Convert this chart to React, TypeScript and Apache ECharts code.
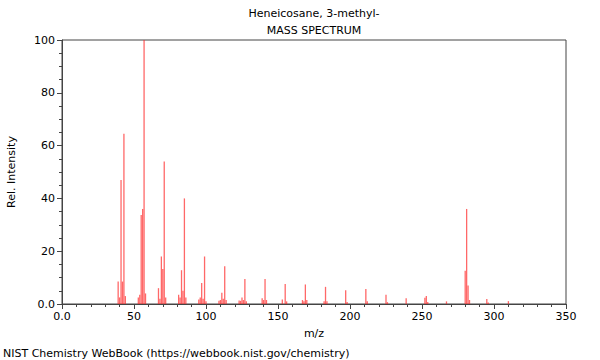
import React, { useEffect, useRef } from "react";
import * as echarts from "echarts";

const titleLines = ["Heneicosane, 3-methyl-", "MASS SPECTRUM"];
const xAxisName = "m/z";
const yAxisName = "Rel. Intensity";
const footer = "NIST Chemistry WebBook (https://webbook.nist.gov/chemistry)";

const mz = [
  39, 40, 41, 42, 43, 44, 53, 54, 55, 56, 57, 58, 67, 68, 69, 70, 71, 72,
  81, 82, 83, 84, 85, 86, 95, 96, 97, 98, 99, 100, 109, 110, 111, 112, 113, 114,
  123, 124, 125, 126, 127, 128, 139, 140, 141, 142, 153, 155, 156, 167, 168, 169,
  170, 182, 183, 184, 197, 198, 211, 212, 225, 226, 239, 252, 253, 254, 267,
  280, 281, 282, 283, 295, 296, 310,
];
const intensity = [
  8.5, 2.5, 47, 8.5, 64.5, 3, 2.5, 3.5, 33.7, 36, 100, 4, 6, 2, 18, 13.3, 54, 2.5,
  3.5, 2.5, 12.8, 5, 40, 2.5, 1.7, 2.5, 8, 2, 18, 1, 1.2, 1.5, 4.3, 2, 14.3, 1.5,
  1.3, 1.2, 2.5, 1.5, 9.5, 1, 2.2, 1.5, 9.5, 1.5, 1.7, 7.6, 1, 1.5, 1, 7.4,
  1.5, 1, 6.5, 1, 5.2, 0.8, 5.7, 1, 3.5, 0.7, 2.2, 2.4, 3, 0.8, 1,
  12.6, 36, 7, 1.5, 1.9, 0.6, 1.1,
];

const FONT = "DejaVu Sans";

export default function App() {
  const ref = useRef<HTMLDivElement>(null);
  useEffect(() => {
    if (!ref.current) return;
    const chart = echarts.init(ref.current, null, { renderer: "svg" });
    const axisColor = "#444";
    const fmt = (v: number) => (v === 0 ? "0.0" : String(v));
    chart.setOption({
      animation: false,
      grid: {
        left: 62,
        right: 34,
        top: 40,
        bottom: 56,
        show: true,
        borderColor: axisColor,
        borderWidth: 1,
        backgroundColor: "transparent",
      },
      xAxis: {
        type: "value",
        min: 0,
        max: 350,
        interval: 50,
        axisLine: { show: true, onZero: false, lineStyle: { color: axisColor, width: 1 } },
        axisTick: { show: true, length: 5, lineStyle: { color: axisColor } },
        minorTick: { show: true, splitNumber: 5, length: 3, lineStyle: { color: axisColor } },
        splitLine: { show: false },
        axisLabel: { formatter: fmt, color: "#000", fontFamily: FONT, fontSize: 11, margin: 7 },
      },
      yAxis: {
        type: "value",
        min: 0,
        max: 100,
        interval: 20,
        axisLine: { show: true, lineStyle: { color: axisColor, width: 1 } },
        axisTick: { show: true, length: 5, lineStyle: { color: axisColor } },
        minorTick: { show: true, splitNumber: 4, length: 3, lineStyle: { color: axisColor } },
        splitLine: { show: false },
        axisLabel: { formatter: fmt, color: "#000", fontFamily: FONT, fontSize: 11, margin: 7 },
      },
      series: [
        {
          type: "bar",
          data: mz.map((m, i) => [m, intensity[i]]),
          barWidth: 1.3,
          itemStyle: { color: "rgba(255,40,40,0.7)" },
          silent: true,
        },
      ],
      graphic: [
        {
          type: "text",
          x: 314,
          y: 13,
          style: {
            text: titleLines[0],
            fontFamily: FONT,
            fontSize: 11,
            fill: "#000",
            textAlign: "center",
            textVerticalAlign: "middle",
          },
        },
        {
          type: "text",
          x: 314,
          y: 30,
          style: {
            text: titleLines[1],
            fontFamily: FONT,
            fontSize: 11,
            fill: "#000",
            textAlign: "center",
            textVerticalAlign: "middle",
          },
        },
        {
          type: "text",
          x: 314,
          y: 333,
          style: {
            text: xAxisName,
            fontFamily: FONT,
            fontSize: 11,
            fill: "#000",
            textAlign: "center",
            textVerticalAlign: "middle",
          },
        },
        {
          type: "text",
          x: 11,
          y: 172,
          rotation: Math.PI / 2,
          style: {
            text: yAxisName,
            fontFamily: FONT,
            fontSize: 11,
            fill: "#000",
            textAlign: "center",
            textVerticalAlign: "middle",
          },
        },
        {
          type: "text",
          x: 3,
          y: 353,
          style: {
            text: footer,
            fontFamily: FONT,
            fontSize: 11,
            fill: "#000",
            textAlign: "left",
            textVerticalAlign: "middle",
          },
        },
      ],
    });
    return () => chart.dispose();
  }, []);
  return <div ref={ref} style={{ width: 600, height: 360, position: "absolute", left: 0, top: 0 }} />;
}
